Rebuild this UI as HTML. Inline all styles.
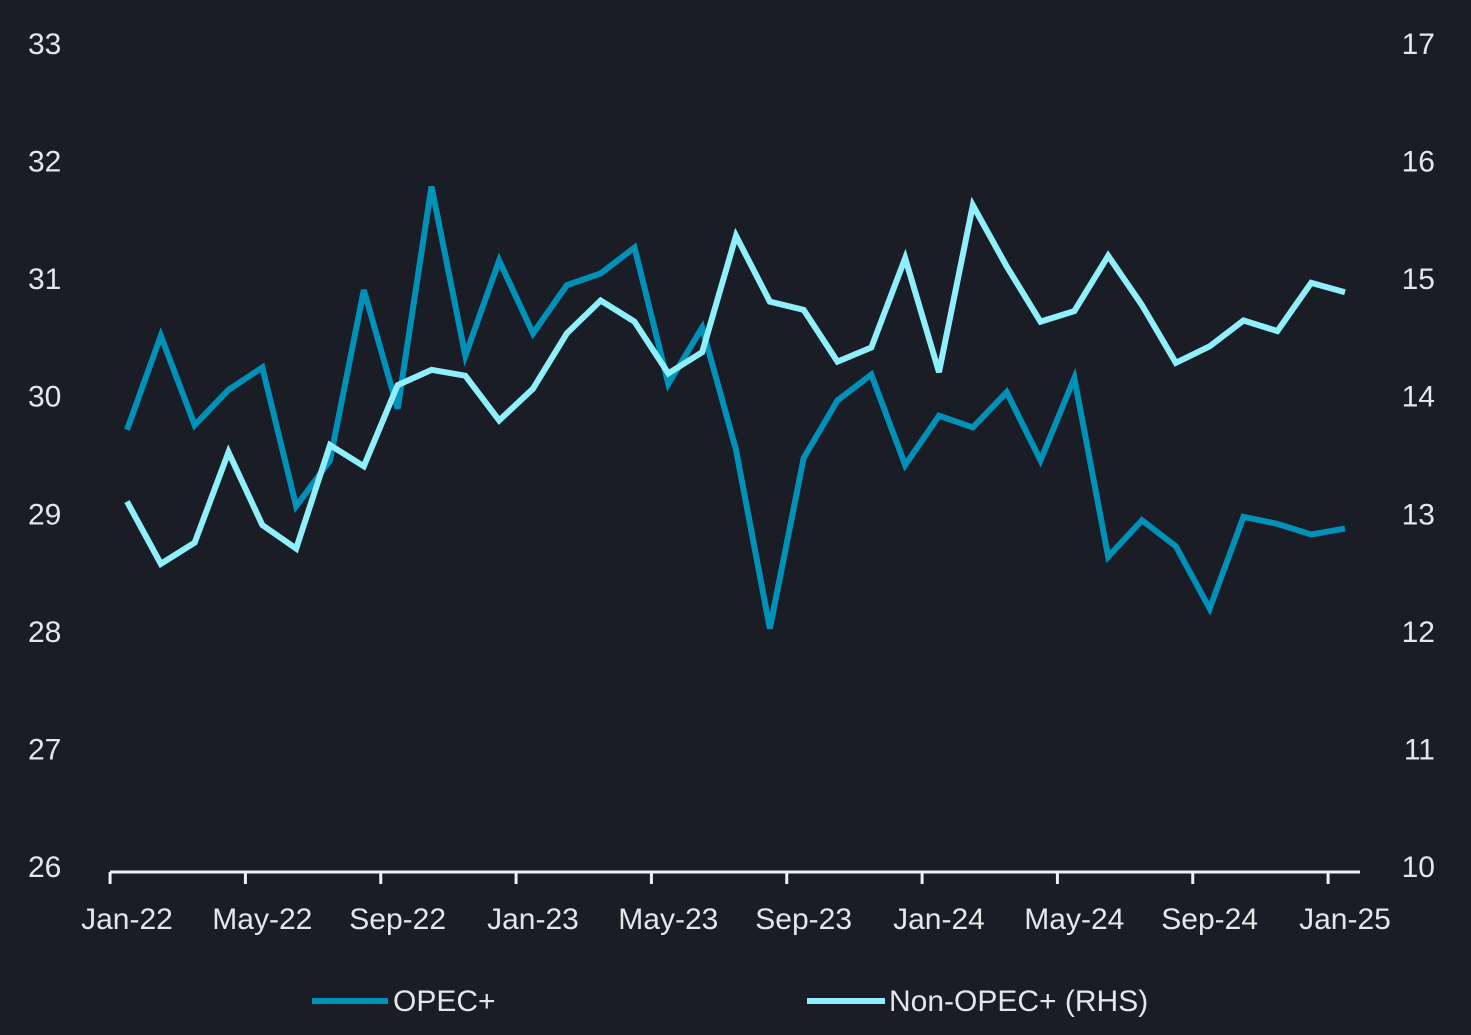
<!DOCTYPE html>
<html><head><meta charset="utf-8"><style>
html,body{margin:0;padding:0;background:#1a1d26;}
svg{display:block;font-family:"Liberation Sans",sans-serif;}
</style></head><body>
<svg id="chart" width="1471" height="1035" viewBox="0 0 1471 1035">
<rect width="1471" height="1035" fill="#1a1d26"/>
<g id="leftTicks"></g>
<g id="rightTicks"></g>
<g id="xAxis"></g>
<g id="series"></g>
<g>
<line x1="312" y1="1001" x2="388" y2="1001" stroke="#0091b8" stroke-width="6"/>
<text x="393" y="1011" fill="#e6e6e6" font-size="30">OPEC+</text>
<line x1="807" y1="1001" x2="885" y2="1001" stroke="#8ff0fb" stroke-width="6"/>
<text x="889" y="1011" fill="#e6e6e6" font-size="30">Non-OPEC+ (RHS)</text>
</g>
</svg>
<script>
const months = 37;
const xLabels = ["Jan-22","May-22","Sep-22","Jan-23","May-23","Sep-23","Jan-24","May-24","Sep-24","Jan-25"];
const leftTicks = [26,27,28,29,30,31,32,33];
const rightTicks = [10,11,12,13,14,15,16,17];
const opec = [29.71,30.51,29.75,30.05,30.24,29.06,29.45,30.90,29.89,31.78,30.34,31.15,30.53,30.94,31.04,31.26,30.10,30.58,29.54,28.02,29.47,29.96,30.18,29.41,29.83,29.73,30.03,29.45,30.15,28.63,28.94,28.72,28.19,28.97,28.91,28.82,28.87];
const nonOpec = [13.10,12.57,12.75,13.52,12.90,12.70,13.58,13.40,14.09,14.22,14.17,13.79,14.06,14.53,14.81,14.63,14.19,14.37,15.36,14.80,14.73,14.29,14.41,15.17,14.20,15.62,15.10,14.63,14.72,15.19,14.77,14.28,14.42,14.64,14.55,14.96,14.88];

const NS="http://www.w3.org/2000/svg";
const x0=127, step=(1345-127)/36;
const yTop=43, yBot=866;
const xS=i=>x0+i*step;
const yL=v=>yBot-(v-26)/7*(yBot-yTop);
const yR=v=>yBot-(v-10)/7*(yBot-yTop);
function mk(tag,attrs,parent){const e=document.createElementNS(NS,tag);for(const k in attrs)e.setAttribute(k,attrs[k]);parent.appendChild(e);return e;}

const lg=document.getElementById('leftTicks');
leftTicks.forEach(v=>{const t=mk('text',{x:28,y:yL(v)+11,fill:'#e6e6e6','font-size':30},lg);


t.textContent=v;});
const rg=document.getElementById('rightTicks');
rightTicks.forEach(v=>{const t=mk('text',{x:1435,y:yR(v)+11,fill:'#e6e6e6','font-size':30,'text-anchor':'end'},rg);


t.textContent=v;});

const xg=document.getElementById('xAxis');
const axisLine=mk('line',{x1:x0-step/2,y1:872,x2:1360,y2:872,stroke:'#f0f0f0','stroke-width':3},xg);


xLabels.forEach((lab,k)=>{const i=k*4;const tx=xS(i)-step/2;
const tk=mk('line',{x1:tx,y1:872,x2:tx,y2:884,stroke:'#f0f0f0','stroke-width':3},xg);


const t=mk('text',{x:xS(i),y:929,fill:'#e6e6e6','font-size':30,'text-anchor':'middle'},xg);


t.textContent=lab;});

const sg=document.getElementById('series');
const p1=mk('polyline',{points:opec.map((v,i)=>xS(i)+','+yL(v)).join(' '),fill:'none',stroke:'#0091b8','stroke-width':6,'stroke-linejoin':'miter'},sg);


const p2=mk('polyline',{points:nonOpec.map((v,i)=>xS(i)+','+yR(v)).join(' '),fill:'none',stroke:'#8ff0fb','stroke-width':6,'stroke-linejoin':'miter'},sg);


</script>
</body></html>
